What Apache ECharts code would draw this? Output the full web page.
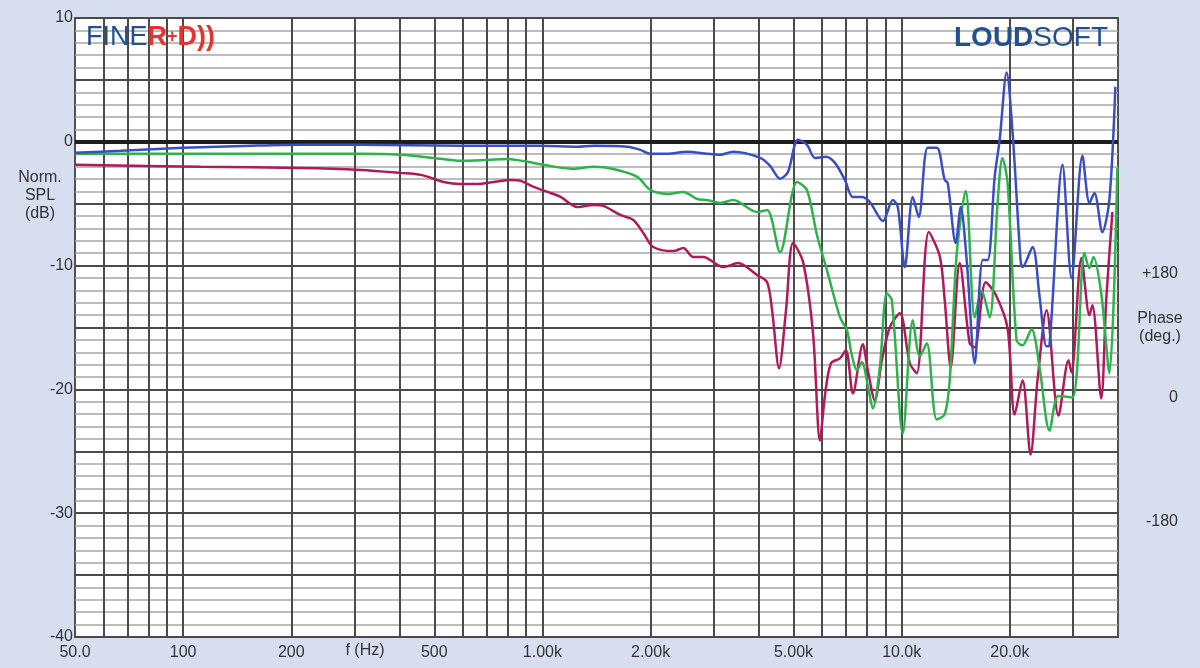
<!DOCTYPE html>
<html>
<head>
<meta charset="utf-8">
<script src="https://cdn.jsdelivr.net/npm/echarts@6/dist/echarts.min.js"></script>
<style>
html,body{margin:0;padding:0;background:#D6DEF0;}
#c{width:1200px;height:668px;}
</style>
</head>
<body>
<div id="c"></div>
<script>
// ---------- data (frequency in Hz, normalised SPL in dB) ----------
const freqBlue = [50,67,100,155,213,312,592,988,1252,1387,1723,1873,1997,2226,2530,2875,3124,3395,4035,4301,4585,4826,5145,5450,5737,6155,6520,6949,7314,7748,8154,8863,9448,9755,10200,10735,11154,11815,12518,13174,13430,14136,14596,15167,15970,16807,17354,18146,18736,19590,20355,21421,21698,23134,24190,25300,25790,28030,29690,31850,33310,34390,36190,37850,39330];
const splBlue = [-0.89,-0.73,-0.49,-0.32,-0.24,-0.24,-0.32,-0.32,-0.40,-0.32,-0.40,-0.65,-0.97,-0.97,-0.81,-0.97,-1.05,-0.81,-1.30,-1.94,-2.99,-2.43,0.16,-0.24,-1.30,-1.21,-1.70,-3.08,-4.45,-4.45,-4.86,-6.40,-4.70,-5.26,-10.12,-4.45,-6.07,-0.49,-0.49,-3.08,-3.32,-8.18,-5.26,-9.55,-17.89,-9.55,-9.55,-2.83,0.16,5.59,0.73,-9.55,-10.12,-8.50,-12.47,-16.52,-16.44,-1.86,-11.01,-1.13,-4.94,-4.13,-7.29,-4.70,4.45];

const freqGreen = [50,112,213,312,403,498,592,704,800,909,1007,1220,1387,1576,1837,1997,2226,2466,2697,2875,3124,3395,3959,4220,4585,5114,5450,5809,6193,6733,7039,7267,7503,7748,8049,8311,8693,9090,9386,10071,10735,11229,11742,12518,13174,13603,14226,15071,15970,16700,17565,18490,19070,19710,20880,21698,22985,24190,25790,27320,29880,32250,33310,34170,35920,37850,39840];
const splGreen = [-0.97,-0.97,-0.97,-0.97,-1.05,-1.30,-1.54,-1.46,-1.38,-1.62,-1.86,-2.19,-2.02,-2.19,-2.83,-3.89,-4.21,-4.05,-4.62,-4.70,-4.94,-4.70,-5.67,-5.51,-8.91,-3.24,-3.89,-7.53,-10.36,-14.17,-15.22,-17.25,-18.46,-17.81,-19.68,-21.54,-18.22,-12.23,-12.79,-23.56,-14.41,-17.33,-16.28,-22.43,-22.02,-19.27,-9.07,-3.97,-14.17,-12.06,-14.17,-4.94,-1.30,-3.32,-16.03,-16.44,-15.14,-18.22,-23.32,-20.53,-20.65,-8.99,-10.20,-9.31,-12.23,-18.70,-2.11];

const freqRed = [50,112,213,312,403,459,531,592,660,731,816,870,945,1033,1123,1252,1387,1478,1648,1791,1909,2035,2313,2466,2629,2802,3185,3504,3959,4220,4357,4556,4765,4985,5315,5665,5921,6115,6355,6733,6994,7314,7796,8049,8419,8805,9266,9879,10531,11013,11894,12760,13174,13691,14502,15461,15970,17130,18250,19710,20620,21698,22840,23880,25300,27320,29130,29690,31640,33310,33950,35920,37090,38590];
const splRed = [-1.86,-2.02,-2.11,-2.27,-2.51,-2.67,-3.24,-3.40,-3.40,-3.24,-3.08,-3.16,-3.64,-4.05,-4.45,-5.26,-5.10,-5.18,-5.91,-6.32,-7.37,-8.50,-8.83,-8.58,-9.31,-9.31,-10.12,-9.80,-10.77,-11.34,-13.60,-18.30,-13.60,-8.18,-9.72,-15.47,-24.13,-20.49,-17.89,-17.49,-16.84,-20.32,-16.36,-18.46,-20.89,-17.65,-14.98,-13.85,-17.89,-18.70,-7.29,-9.23,-12.79,-18.22,-9.80,-16.28,-16.60,-11.34,-12.31,-15.06,-22.02,-19.27,-25.26,-19.27,-13.60,-22.11,-17.65,-18.62,-9.39,-14.01,-13.20,-20.73,-12.79,-5.67];

// ---------- axes / ticks ----------
const xTickValues = [50,100,200,500,1000,2000,5000,10000,20000];
const xTickLabels = ['50.0','100','200','500','1.00k','2.00k','5.00k','10.0k','20.0k'];
const xGridValues = [60,70,80,90,100,200,300,400,500,600,700,800,900,1000,2000,3000,4000,5000,6000,7000,8000,9000,10000,20000,30000];
const yTickValues = [-40,-30,-20,-10,0,10];
const phaseTicks = [-180,0,180];
const phaseLabels = ['-180','0','+180'];

const FONT = '"Liberation Sans", Arial, sans-serif';
const TXT = '#333333';

function pairs(f, v) { return f.map((x, i) => [x, v[i]]); }
function xLabel(v) {
  for (let i = 0; i < xTickValues.length; i++) {
    if (Math.abs(v - xTickValues[i]) < xTickValues[i] * 1e-3) return xTickLabels[i];
  }
  return '';
}

const chart = echarts.init(document.getElementById('c'), null, {renderer: 'canvas'});
chart.setOption({
  animation: false,
  backgroundColor: '#D6DEF0',
  grid: {left: 75, right: 82, top: 18, bottom: 31, show: true, backgroundColor: '#ffffff', borderColor: '#505050', borderWidth: 2},
  xAxis: {
    type: 'log', logBase: 10, min: 50, max: 40000,
    axisLine: {show: false}, axisTick: {show: false}, splitLine: {show: false},
    axisLabel: {customValues: xTickValues, formatter: xLabel, margin: 8, color: TXT, fontSize: 16, fontFamily: FONT}
  },
  yAxis: [
    {
      type: 'value', min: -40, max: 10, interval: 5,
      axisLine: {show: false}, axisTick: {show: false},
      axisLabel: {formatter: v => yTickValues.indexOf(v) >= 0 ? String(v) : '', margin: 2, color: TXT, fontSize: 16, fontFamily: FONT},
      splitLine: {show: true, lineStyle: {color: '#4a4a4a', width: 2}},
      minorTick: {show: false, splitNumber: 5},
      minorSplitLine: {show: true, lineStyle: {color: '#a6a6a6', width: 1.5}}
    },
    {
      type: 'value', position: 'right', min: -360, max: 540, interval: 180,
      axisLine: {show: false}, axisTick: {show: false}, splitLine: {show: false},
      axisLabel: {
        formatter: v => { const i = phaseTicks.indexOf(v); return i >= 0 ? phaseLabels[i] : ''; },
        align: 'right', verticalAlign: 'top', margin: 60, color: TXT, fontSize: 16, fontFamily: FONT
      }
    }
  ],
  series: [
    {
      type: 'line', data: [], z: 1, silent: true,
      markLine: {silent: true, symbol: ['none', 'none'], label: {show: false},
        lineStyle: {color: '#4a4a4a', width: 2, type: 'solid'},
        data: xGridValues.map(v => ({xAxis: v}))}
    },
    {
      type: 'line', data: [], z: 2, silent: true,
      markLine: {silent: true, symbol: ['none', 'none'], label: {show: false},
        lineStyle: {color: '#1e1e1e', width: 4, type: 'solid'},
        data: [{yAxis: 0}]}
    },
    {name: 'Red', type: 'line', data: pairs(freqRed, splRed), smooth: 0.3, showSymbol: false, z: 5,
      lineStyle: {color: '#B0195A', width: 2.5}},
    {name: 'Green', type: 'line', data: pairs(freqGreen, splGreen), smooth: 0.3, showSymbol: false, z: 6,
      lineStyle: {color: '#2DB34B', width: 2.5}},
    {name: 'Blue', type: 'line', data: pairs(freqBlue, splBlue), smooth: 0.3, showSymbol: false, z: 7,
      lineStyle: {color: '#3A4EC4', width: 2.5}}
  ],
  graphic: [
    {type: 'text', left: 86, top: 24, z: 100, style: {
      text: '{a|FINE}{b|R}{c|+}{b|D))}',
      rich: {
        a: {fontSize: 27, fontFamily: FONT, fill: '#23508F', fontWeight: 'normal'},
        b: {fontSize: 27, fontFamily: FONT, fill: '#E8322E', fontWeight: 'bold'},
        c: {fontSize: 18, fontFamily: FONT, fill: '#E8322E', fontWeight: 'bold'}
      }}},
    {type: 'text', right: 92, top: 24, z: 100, style: {
      text: '{a|LOUD}{b|SOFT}',
      rich: {
        a: {fontSize: 28, fontFamily: FONT, fill: '#23508F', fontWeight: 'bold'},
        b: {fontSize: 28, fontFamily: FONT, fill: '#23508F', fontWeight: 'normal'}
      }}},
    {type: 'text', z: 100, style: {x: 40, y: 169, text: 'Norm.\nSPL\n(dB)', textAlign: 'center', textVerticalAlign: 'top',
      font: '16px ' + FONT, fill: TXT, lineHeight: 18}},
    {type: 'text', z: 100, style: {x: 1160, y: 310, text: 'Phase\n(deg.)', textAlign: 'center', textVerticalAlign: 'top',
      font: '16px ' + FONT, fill: TXT, lineHeight: 18}},
    {type: 'text', z: 100, style: {x: 365, y: 643, text: 'f (Hz)', textAlign: 'center', textVerticalAlign: 'top',
      font: '16px ' + FONT, fill: TXT}}
  ]
});
</script>
</body>
</html>
